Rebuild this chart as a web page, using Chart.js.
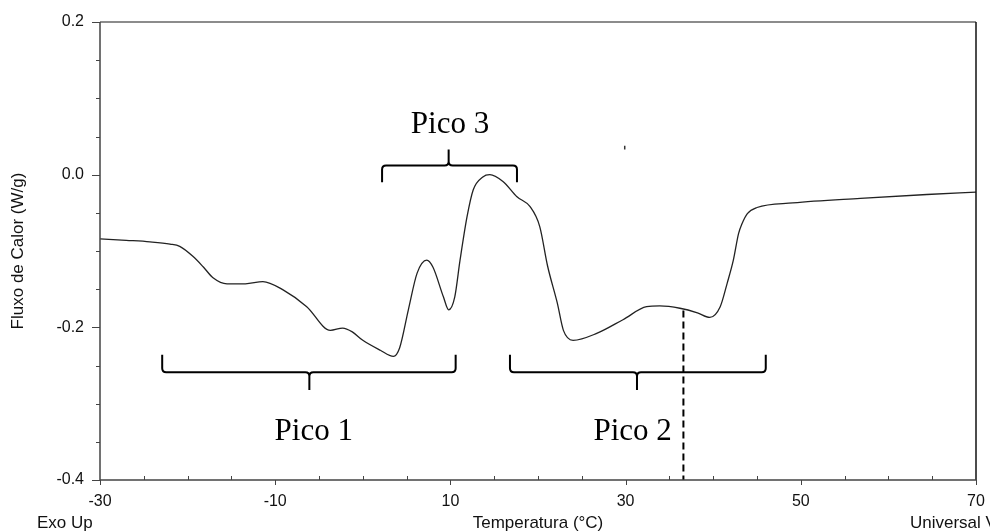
<!DOCTYPE html>
<html>
<head>
<meta charset="utf-8">
<script src="https://cdn.jsdelivr.net/npm/chart.js@4.4.1/dist/chart.umd.min.js"></script>
<style>
html,body{margin:0;padding:0;background:#fff;}
#wrap{width:990px;height:532px;position:relative;}
</style>
</head>
<body>
<div id="wrap"><canvas id="c" width="990" height="532"></canvas></div>
<script>
// ---- data ----
const temperature = [-30,-27,-24.3,-22,-20.9,-19.4,-18.2,-17.1,-15.5,-13.4,-11.4,-9.1,-6.4,-3.7,-2.3,-1.2,0,2,3.5,4.2,5.2,6.2,7.3,8.0,9.2,9.8,10.5,11.1,11.9,12.6,13.7,14.5,16.0,17.6,19.1,20.2,21.1,22.2,22.9,24.0,26.7,29.7,32.4,33.9,36.2,38.2,39.6,40.8,41.6,42.3,42.9,43.3,43.9,45.0,49.1,56.8,64.4,70];
const heatFlow = [-0.084,-0.086,-0.088,-0.091,-0.094,-0.107,-0.121,-0.135,-0.143,-0.143,-0.140,-0.151,-0.173,-0.204,-0.201,-0.206,-0.217,-0.230,-0.238,-0.227,-0.177,-0.129,-0.112,-0.121,-0.160,-0.177,-0.160,-0.112,-0.055,-0.020,-0.003,0.0,-0.009,-0.029,-0.042,-0.068,-0.120,-0.168,-0.204,-0.217,-0.208,-0.190,-0.173,-0.172,-0.175,-0.181,-0.187,-0.173,-0.142,-0.112,-0.077,-0.064,-0.051,-0.043,-0.037,-0.031,-0.026,-0.023];

const xTicks = [-30,-10,10,30,50,70];
const yTicks = [-0.4,-0.2,0.0,0.2];

// peak annotations (data units)
const peakLabels = ['Pico 1','Pico 2','Pico 3'];
const bracketStart = [-22.9, 16.8, 2.2];
const bracketEnd   = [10.6, 46.0, 17.6];
const bracketMid   = [-6.1, 31.3, 9.8];
const bracketLine  = [-0.259, -0.259, 0.012];
const bracketTip   = [-0.236, -0.236, -0.010];
const bracketNotch = [-0.282, -0.282, 0.033];
const labelX = [-5.6, 30.8, 9.95];
const labelY = [-0.337, -0.337, 0.065];

// dashed marker
const markerX = [36.6, 36.6];
const markerY = [-0.178, -0.4];
// small stray mark
const dotX = [29.9, 29.9];
const dotY = [0.038, 0.033];

const curve = temperature.map((t,i)=>({x:t,y:heatFlow[i]}));
const marker = markerX.map((t,i)=>({x:t,y:markerY[i]}));
const dot = dotX.map((t,i)=>({x:t,y:dotY[i]}));

const FONT = '"Liberation Sans", Arial, sans-serif';

const decor = {
  id:'decor',
  beforeDraw(chart){
    const ctx = chart.ctx;
    ctx.save();
    ctx.fillStyle = '#ffffff';
    ctx.fillRect(0,0,chart.width,chart.height);
    ctx.restore();
  },
  afterDatasetsDraw(chart){
    const ctx = chart.ctx;
    const xs = chart.scales.x, ys = chart.scales.y;
    const a = chart.chartArea;
    ctx.save();
    // frame
    ctx.lineWidth = 1.5;
    ctx.strokeStyle = '#666';
    ctx.beginPath();
    ctx.moveTo(a.left, a.top); ctx.lineTo(a.right, a.top);
    ctx.stroke();
    ctx.strokeStyle = '#111';
    ctx.beginPath();
    ctx.moveTo(a.right, a.top); ctx.lineTo(a.right, a.bottom);
    ctx.stroke();
    ctx.strokeStyle = '#444';
    ctx.beginPath();
    ctx.moveTo(a.left, a.top); ctx.lineTo(a.left, a.bottom); ctx.lineTo(a.right, a.bottom);
    ctx.stroke();
    // x ticks
    ctx.lineWidth = 1;
    ctx.strokeStyle = '#444';
    for (let v = xs.min; v <= xs.max + 1e-9; v += 5) {
      const px = Math.round(xs.getPixelForValue(v)) + 0.5;
      const major = xTicks.some(t => Math.abs(t - v) < 1e-6);
      ctx.beginPath();
      if (major) { ctx.moveTo(px, a.bottom); ctx.lineTo(px, a.bottom + 5); }
      else { ctx.moveTo(px, a.bottom); ctx.lineTo(px, a.bottom - 4); }
      ctx.stroke();
    }
    // y ticks
    for (let k = 0; k <= 12; k++) {
      const v = ys.min + k * 0.05;
      const py = Math.round(ys.getPixelForValue(v)) + 0.5;
      const major = yTicks.some(t => Math.abs(t - v) < 1e-6);
      ctx.beginPath();
      ctx.moveTo(a.left, py); ctx.lineTo(a.left - (major ? 8 : 4), py);
      ctx.stroke();
    }
    // brackets
    ctx.strokeStyle = '#000';
    ctx.lineWidth = 2;
    const r = 4;
    for (let i = 0; i < peakLabels.length; i++) {
      const x0 = xs.getPixelForValue(bracketStart[i]);
      const x1 = xs.getPixelForValue(bracketEnd[i]);
      const xm = xs.getPixelForValue(bracketMid[i]);
      const yl = ys.getPixelForValue(bracketLine[i]);
      const yt = ys.getPixelForValue(bracketTip[i]);
      const yn = ys.getPixelForValue(bracketNotch[i]);
      const s = Math.sign(yn - yl);
      ctx.beginPath();
      ctx.moveTo(x0, yt);
      ctx.lineTo(x0, yl - s*r);
      ctx.quadraticCurveTo(x0, yl, x0 + r, yl);
      ctx.lineTo(xm - r, yl);
      ctx.quadraticCurveTo(xm, yl, xm, yl + s*r);
      ctx.lineTo(xm, yn);
      ctx.moveTo(xm, yl + s*r);
      ctx.quadraticCurveTo(xm, yl, xm + r, yl);
      ctx.lineTo(x1 - r, yl);
      ctx.quadraticCurveTo(x1, yl, x1, yl - s*r);
      ctx.lineTo(x1, yt);
      ctx.stroke();
      // labels
      ctx.fillStyle = '#000';
      ctx.font = '31px "Liberation Serif", "Times New Roman", serif';
      ctx.textAlign = 'center';
      ctx.textBaseline = 'middle';
      ctx.fillText(peakLabels[i], xs.getPixelForValue(labelX[i]), ys.getPixelForValue(labelY[i]));
    }
    // corner texts
    ctx.fillStyle = '#111';
    ctx.font = '17px ' + FONT;
    ctx.textAlign = 'left';
    ctx.textBaseline = 'middle';
    ctx.fillText('Exo Up', 37, 523);
    ctx.fillText('Universal V', 910, 523);
    ctx.restore();
  }
};

new Chart(document.getElementById('c'), {
  type: 'line',
  data: {
    datasets: [
      { data: curve, borderColor: '#222', borderWidth: 1.3, pointRadius: 0, fill: false, tension: 0.4, cubicInterpolationMode: 'monotone' },
      { data: marker, borderColor: '#000', borderWidth: 2, borderDash: [7,4], pointRadius: 0, fill: false },
      { data: dot, borderColor: '#333', borderWidth: 1.5, pointRadius: 0, fill: false }
    ]
  },
  options: {
    responsive: false,
    animation: false,
    layout: { padding: { top: 22, right: 14, left: 0, bottom: 0 } },
    plugins: { legend: { display: false }, tooltip: { enabled: false } },
    scales: {
      x: {
        type: 'linear', min: -30, max: 70,
        grid: { display: false, drawTicks: false },
        border: { display: false },
        ticks: { stepSize: 20, padding: 12, color: '#111', maxRotation: 0,
          font: { family: FONT, size: 16 },
          callback: v => String(Math.round(v)) },
        title: { display: true, text: 'Temperatura (°C)', color: '#111', padding: { top: 0, bottom: 0 },
          font: { family: FONT, size: 17, lineHeight: 1 } },
        afterFit: s => { s.height = 52; s.paddingLeft = 0; s.paddingRight = 0; }
      },
      y: {
        type: 'linear', min: -0.4, max: 0.2,
        grid: { display: false, drawTicks: false },
        border: { display: false },
        ticks: { stepSize: 0.2, padding: 16, color: '#111',
          font: { family: FONT, size: 16 },
          callback: v => (Math.abs(v) < 1e-9 ? 0 : v).toFixed(1) },
        title: { display: true, text: 'Fluxo de Calor (W/g)', color: '#111', padding: { top: 10, bottom: 0 },
          font: { family: FONT, size: 17, lineHeight: 1 } },
        afterFit: s => { s.width = 100; s.paddingTop = 0; s.paddingBottom = 0; }
      }
    }
  },
  plugins: [decor]
});
</script>
</body>
</html>
